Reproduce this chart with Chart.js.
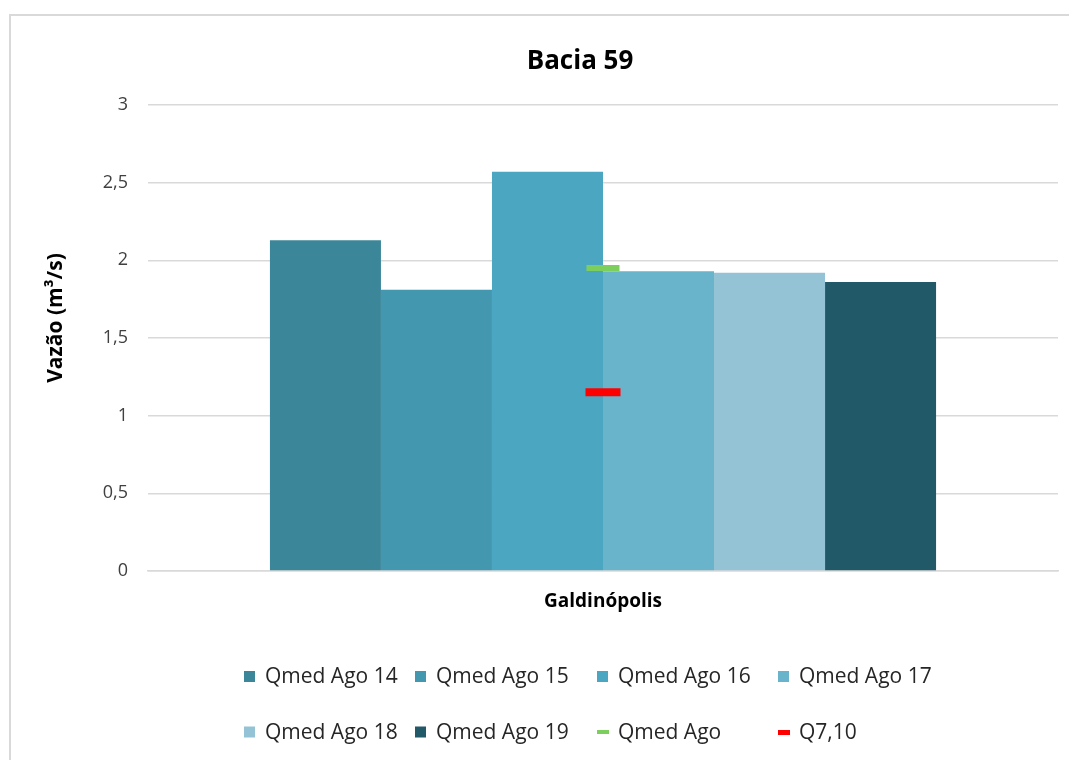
<!DOCTYPE html>
<html>
<head>
<meta charset="utf-8">
<title>Bacia 59</title>
<style>
  body { margin: 0; background: #fff; overflow: hidden; }
  canvas { position: absolute; left: 0; top: 0; }
  /* chart frame, runs off the right and bottom edges like the original */
  #frame { position: absolute; left: 9px; top: 14px; width: 1200px; height: 900px;
           border: 2px solid #d9d9d9; pointer-events: none; }
</style>
</head>
<body>
<canvas id="chart" width="1069" height="760"></canvas>
<div id="frame"></div>

<script src="https://cdn.jsdelivr.net/npm/chart.js@4.4.1/dist/chart.umd.min.js"></script>
<script>
// data
const categories = ['Galdinópolis'];
const seriesNames = ['Qmed Ago 14', 'Qmed Ago 15', 'Qmed Ago 16', 'Qmed Ago 17', 'Qmed Ago 18', 'Qmed Ago 19'];
const qmedAgo14 = [2.13];
const qmedAgo15 = [1.81];
const qmedAgo16 = [2.57];
const qmedAgo17 = [1.93];
const qmedAgo18 = [1.92];
const qmedAgo19 = [1.86];
const qmedAgo = [1.95];
const q710 = [1.15];
const yTicks = [0, 0.5, 1, 1.5, 2, 2.5, 3];

const barColors = ['#3b8699', '#4398af', '#4aa6c1', '#69b3cb', '#93c3d5', '#225968'];
const greenColor = '#7ccf5c';
const redColor = '#ff0000';

Chart.defaults.font.family = "'Open Sans', sans-serif";
Chart.defaults.color = '#404040';

const barSeries = [qmedAgo14, qmedAgo15, qmedAgo16, qmedAgo17, qmedAgo18, qmedAgo19];
const datasets = barSeries.map((vals, i) => ({
  type: 'bar',
  label: seriesNames[i],
  data: vals,
  backgroundColor: barColors[i],
  borderWidth: 0,
  categoryPercentage: 0.732,
  barPercentage: 1
}));
datasets.push({
  type: 'line', label: 'Qmed Ago', data: qmedAgo, order: -1,
  showLine: false, pointStyle: 'line', pointRadius: 16.5, pointHoverRadius: 16.5,
  borderColor: greenColor, pointBorderColor: greenColor, pointBorderWidth: 6
});
datasets.push({
  type: 'line', label: 'Q7,10', data: q710, order: -1,
  showLine: false, pointStyle: 'line', pointRadius: 17.5, pointHoverRadius: 17.5,
  borderColor: redColor, pointBorderColor: redColor, pointBorderWidth: 8
});

// legend laid out in a grid like Excel does, plus the y axis title
const legendCols = [244, 415, 597, 778];
const legendRows = [676.5, 732];
const excelLegend = {
  id: 'excelLegend',
  afterDraw(chart) {
    const ctx = chart.ctx;
    ctx.save();
    ctx.font = "21px 'Open Sans'";
    ctx.textBaseline = 'middle';
    ctx.textAlign = 'left';
    chart.data.datasets.forEach((ds, i) => {
      const x = legendCols[i % 4];
      const y = legendRows[Math.floor(i / 4)];
      if (ds.type === 'bar') {
        ctx.fillStyle = ds.backgroundColor;
        ctx.fillRect(x, y - 5.5, 11, 11);
      } else {
        ctx.fillStyle = ds.borderColor;
        ctx.fillRect(x, y - 2, 12, ds.label === 'Q7,10' ? 5 : 4);
      }
      ctx.fillStyle = '#262626';
      ctx.fillText(ds.label, x + 21, y + 1);
    });

    ctx.translate(56, 318);
    ctx.rotate(-Math.PI / 2);
    ctx.font = "bold 21px 'Open Sans'";
    ctx.fillStyle = '#000';
    ctx.textAlign = 'center';
    ctx.fillText('Vazão (m³/s)', 0, 0);
    ctx.restore();
  }
};

new Chart(document.getElementById('chart'), {
  data: { labels: categories, datasets: datasets },
  options: {
    responsive: false,
    animation: false,
    // left padding pushes the centred title over to where Excel put it
    layout: { autoPadding: false, padding: { left: 102, right: 11, top: 0, bottom: 129 } },
    plugins: {
      legend: { display: false },
      tooltip: { enabled: false },
      title: {
        display: true,
        text: 'Bacia 59',
        color: '#000',
        font: { size: 26, weight: 'bold' },
        padding: { top: 46, bottom: 27.8 }
      }
    },
    scales: {
      x: {
        grid: { display: false, drawTicks: false },
        border: { display: true, color: '#d9d9d9', width: 1.5 },
        ticks: { color: '#000', font: { size: 19, weight: 'bold' }, padding: 19 },
        afterFit(scale) {
          scale.height = 60;
          scale.paddingLeft = 0;
          scale.paddingRight = 0;
        }
      },
      y: {
        min: 0,
        max: 3,
        afterBuildTicks(scale) { scale.ticks = yTicks.map(v => ({ value: v })); },
        grid: { color: '#d9d9d9', lineWidth: 1.5, drawTicks: false },
        border: { display: false },
        ticks: {
          font: { size: 18 },
          color: '#404040',
          padding: 20,
          callback: v => String(v).replace('.', ',')
        },
        afterFit(scale) { scale.width = 46; }
      }
    }
  },
  plugins: [excelLegend]
});
</script>
</body>
</html>
